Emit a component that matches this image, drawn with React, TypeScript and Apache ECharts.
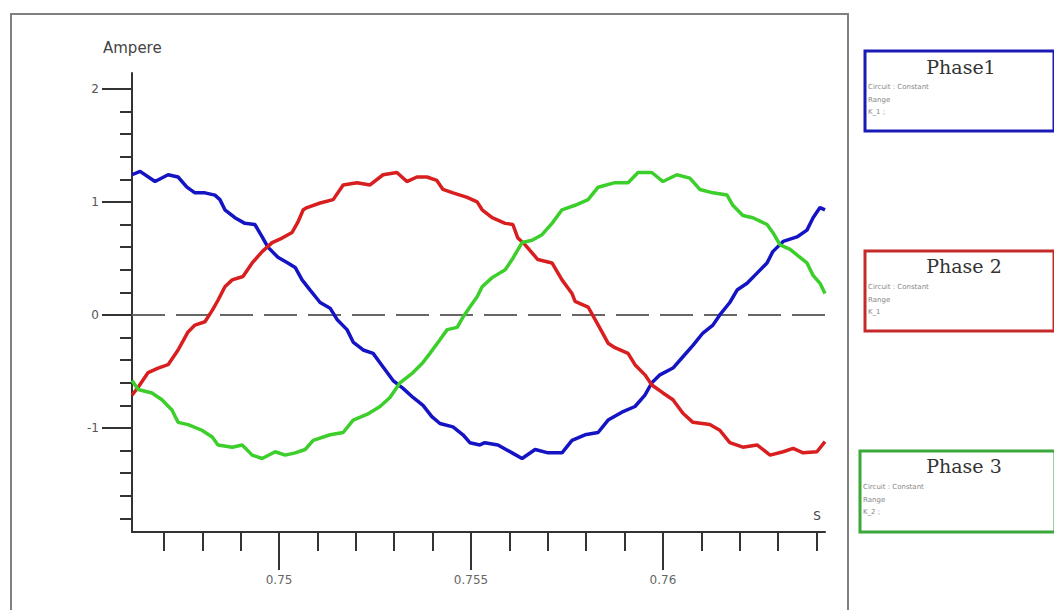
import React, { useEffect, useRef } from "react";
import * as echarts from "echarts";

// time (s) and current (A)
const phase1T = [0.74617, 0.74638, 0.74677, 0.74711, 0.74737, 0.7476, 0.74781, 0.74807, 0.74833, 0.74846, 0.74859, 0.74885, 0.74911, 0.74937, 0.74956, 0.74971, 0.74997, 0.75023, 0.75042, 0.7506, 0.75081, 0.75107, 0.75133, 0.75151, 0.75177, 0.75193, 0.75219, 0.75245, 0.75271, 0.75297, 0.75323, 0.75349, 0.75375, 0.75398, 0.75419, 0.75453, 0.75479, 0.75497, 0.75523, 0.75536, 0.7557, 0.75607, 0.75633, 0.75667, 0.75701, 0.75737, 0.75763, 0.75797, 0.75831, 0.75857, 0.75893, 0.75927, 0.75953, 0.75971, 0.75992, 0.76026, 0.76052, 0.76078, 0.76104, 0.7613, 0.76148, 0.76174, 0.76193, 0.76219, 0.76245, 0.76271, 0.76286, 0.76313, 0.76349, 0.76375, 0.76391, 0.76409, 0.76422];
const phase1I = [1.24, 1.27, 1.18, 1.24, 1.22, 1.13, 1.08, 1.08, 1.06, 1.02, 0.93, 0.86, 0.81, 0.8, 0.69, 0.6, 0.51, 0.46, 0.42, 0.31, 0.22, 0.11, 0.06, -0.04, -0.13, -0.24, -0.31, -0.34, -0.46, -0.58, -0.65, -0.73, -0.8, -0.9, -0.96, -0.99, -1.06, -1.13, -1.15, -1.13, -1.15, -1.22, -1.27, -1.19, -1.22, -1.22, -1.11, -1.06, -1.04, -0.93, -0.86, -0.81, -0.71, -0.6, -0.53, -0.47, -0.37, -0.27, -0.16, -0.09, 0.0, 0.11, 0.22, 0.28, 0.37, 0.46, 0.56, 0.65, 0.69, 0.75, 0.86, 0.95, 0.93];

const phase2T = [0.74617, 0.74633, 0.74659, 0.74685, 0.74711, 0.74737, 0.74763, 0.74781, 0.74807, 0.74826, 0.74841, 0.74859, 0.74878, 0.74906, 0.7493, 0.74956, 0.74982, 0.75008, 0.75034, 0.75049, 0.75063, 0.75073, 0.75107, 0.75141, 0.75167, 0.75203, 0.75237, 0.75271, 0.75307, 0.75333, 0.75359, 0.75385, 0.75411, 0.75427, 0.75453, 0.7549, 0.75516, 0.75529, 0.75555, 0.75589, 0.75609, 0.75622, 0.75641, 0.75674, 0.75711, 0.75737, 0.75763, 0.75771, 0.75805, 0.75823, 0.75841, 0.75857, 0.75875, 0.75909, 0.75927, 0.75953, 0.75971, 0.76, 0.76026, 0.76052, 0.76078, 0.76122, 0.76148, 0.76174, 0.76208, 0.76245, 0.76279, 0.76313, 0.76339, 0.76365, 0.76401, 0.76422];
const phase2I = [-0.71, -0.64, -0.51, -0.47, -0.44, -0.31, -0.15, -0.09, -0.06, 0.04, 0.13, 0.25, 0.31, 0.34, 0.46, 0.56, 0.64, 0.68, 0.73, 0.82, 0.93, 0.95, 0.99, 1.02, 1.15, 1.17, 1.15, 1.24, 1.26, 1.18, 1.22, 1.22, 1.19, 1.11, 1.08, 1.04, 1.0, 0.93, 0.86, 0.81, 0.8, 0.68, 0.62, 0.49, 0.46, 0.31, 0.19, 0.12, 0.07, -0.04, -0.15, -0.25, -0.29, -0.34, -0.44, -0.53, -0.62, -0.69, -0.75, -0.87, -0.95, -0.97, -1.02, -1.13, -1.17, -1.15, -1.24, -1.21, -1.18, -1.22, -1.21, -1.12];

const phase3T = [0.74617, 0.74633, 0.74669, 0.74695, 0.74721, 0.74737, 0.74763, 0.74799, 0.74826, 0.74841, 0.74878, 0.74904, 0.7493, 0.74956, 0.7499, 0.75016, 0.75042, 0.75068, 0.75089, 0.75133, 0.75167, 0.75193, 0.75229, 0.75263, 0.75289, 0.75315, 0.75349, 0.75375, 0.75393, 0.75419, 0.75438, 0.75464, 0.75479, 0.75497, 0.75516, 0.75529, 0.75555, 0.75589, 0.75607, 0.75633, 0.75659, 0.75685, 0.75711, 0.75737, 0.75771, 0.75805, 0.75831, 0.75875, 0.75909, 0.75935, 0.75971, 0.76, 0.76036, 0.7607, 0.76096, 0.7613, 0.76167, 0.76182, 0.76208, 0.76234, 0.76271, 0.76286, 0.76305, 0.76331, 0.76357, 0.76375, 0.76391, 0.76409, 0.76422];
const phase3I = [-0.58, -0.66, -0.69, -0.75, -0.84, -0.95, -0.97, -1.02, -1.08, -1.15, -1.17, -1.15, -1.24, -1.27, -1.21, -1.24, -1.22, -1.19, -1.11, -1.06, -1.04, -0.93, -0.88, -0.81, -0.73, -0.6, -0.51, -0.42, -0.34, -0.22, -0.13, -0.11, -0.02, 0.07, 0.16, 0.25, 0.33, 0.4, 0.49, 0.64, 0.66, 0.71, 0.81, 0.93, 0.97, 1.02, 1.13, 1.17, 1.17, 1.26, 1.26, 1.18, 1.24, 1.21, 1.11, 1.08, 1.06, 0.97, 0.88, 0.86, 0.8, 0.73, 0.62, 0.58, 0.51, 0.46, 0.35, 0.28, 0.19];

const xMin = 0.74617;
const xMax = 0.76422;
const yMin = -1.92;
const yMax = 2.14;
const xMinorTicks = [0.747, 0.748, 0.749, 0.75, 0.751, 0.752, 0.753, 0.754, 0.755, 0.756, 0.757, 0.758, 0.759, 0.76, 0.761, 0.762, 0.763, 0.764];
const xMajorTicks = [0.75, 0.755, 0.76];
const yMinorTicks = [-1.8, -1.6, -1.4, -1.2, -1, -0.8, -0.6, -0.4, -0.2, 0, 0.2, 0.4, 0.6, 0.8, 1, 1.2, 1.4, 1.6, 1.8, 2];
const yMajorTicks = [-1, 0, 1, 2];

const seriesNames = ["Phase1", "Phase 2", "Phase 3"];
const seriesColors = ["#1414c4", "#d81e1e", "#3ccf2c"];
const legendBorders = ["#1a1ab4", "#c42a2a", "#3aa83a"];
const legendSubLines = [
  ["Circuit : Constant", "Range", "K_1 ;"],
  ["Circuit : Constant", "Range", "K_1"],
  ["Circuit : Constant", "Range", "K_2 ;"],
];

const zip = (t: number[], v: number[]) => t.map((x, i) => [x, v[i]]);

export default function App() {
  const ref = useRef<HTMLDivElement>(null);
  useEffect(() => {
    if (!ref.current) return;
    const chart = echarts.init(ref.current, null, { renderer: "svg" });
    const boxes = [
      { x: 865, y: 51, w: 189, h: 80, tx: 961, ty: 67 },
      { x: 865, y: 251, w: 189, h: 80, tx: 964, ty: 266 },
      { x: 860, y: 451, w: 195, h: 81, tx: 964, ty: 466 },
    ];
    const graphics: any[] = [
      {
        type: "rect",
        shape: { x: 11, y: 14, width: 837, height: 620 },
        style: { fill: "none", stroke: "#808080", lineWidth: 2 },
        silent: true,
      },
      {
        type: "text",
        x: 103,
        y: 48,
        style: { text: "Ampere", font: "15px 'DejaVu Sans'", fill: "#444", verticalAlign: "middle" },
      },
      {
        type: "text",
        x: 817,
        y: 516,
        style: { text: "S", font: "12px 'DejaVu Sans'", fill: "#444", align: "center", verticalAlign: "middle" },
      },
    ];
    boxes.forEach((b, i) => {
      graphics.push({
        type: "rect",
        shape: { x: b.x, y: b.y, width: b.w, height: b.h },
        style: { fill: "#fff", stroke: legendBorders[i], lineWidth: 3 },
      });
      graphics.push({
        type: "text",
        x: b.tx,
        y: b.ty,
        style: {
          text: seriesNames[i],
          font: "19px 'DejaVu Serif'",
          fill: "#333",
          align: "center",
          verticalAlign: "middle",
        },
      });
      legendSubLines[i].forEach((s, j) => {
        graphics.push({
          type: "text",
          x: b.x + 3,
          y: b.y + 36 + j * 12.5,
          style: { text: s, font: "7px 'DejaVu Sans'", fill: "#888", verticalAlign: "middle" },
        });
      });
    });

    const axisColor = "#333";
    chart.setOption({
      animation: false,
      backgroundColor: "#fff",
      grid: { left: 132, top: 73, right: 229, bottom: 78, containLabel: false },
      xAxis: [
        {
          type: "value",
          min: xMin,
          max: xMax,
          position: "bottom",
          axisLine: { show: true, onZero: false, lineStyle: { color: axisColor, width: 2 } },
          axisTick: { show: true, customValues: xMinorTicks, length: 19, lineStyle: { color: axisColor, width: 2 } },
          axisLabel: { show: false },
          splitLine: { show: false },
        },
        {
          type: "value",
          min: xMin,
          max: xMax,
          position: "bottom",
          axisLine: { show: false, onZero: false },
          axisTick: { show: true, customValues: xMajorTicks, length: 38, lineStyle: { color: axisColor, width: 2 } },
          axisLabel: {
            show: true,
            customValues: xMajorTicks,
            margin: 42,
            fontFamily: "DejaVu Sans",
            fontSize: 12,
            color: "#666",
            formatter: (v: number) => String(v),
          },
          splitLine: { show: false },
        },
      ],
      yAxis: [
        {
          type: "value",
          min: yMin,
          max: yMax,
          position: "left",
          axisLine: { show: true, onZero: false, lineStyle: { color: axisColor, width: 2 } },
          axisTick: { show: true, customValues: yMinorTicks, length: 12, lineStyle: { color: axisColor, width: 2 } },
          axisLabel: { show: false },
          splitLine: { show: false },
        },
        {
          type: "value",
          min: yMin,
          max: yMax,
          position: "left",
          axisLine: { show: false, onZero: false },
          axisTick: { show: true, customValues: yMajorTicks, length: 30, lineStyle: { color: axisColor, width: 2 } },
          axisLabel: {
            show: true,
            customValues: yMajorTicks,
            margin: 33,
            fontFamily: "DejaVu Sans",
            fontSize: 12,
            color: "#555",
            formatter: (v: number) => String(v),
          },
          splitLine: { show: false },
        },
      ],
      series: [
        {
          name: seriesNames[0],
          type: "line",
          data: zip(phase1T, phase1I),
          showSymbol: false,
          lineStyle: { color: seriesColors[0], width: 3.5 },
          itemStyle: { color: seriesColors[0] },
          z: 3,
          markLine: {
            silent: true,
            symbol: ["none", "none"],
            label: { show: false },
            lineStyle: { type: [33, 11], color: "#666", width: 2 },
            data: [{ yAxis: 0 }],
            z: 1,
          },
        },
        {
          name: seriesNames[1],
          type: "line",
          data: zip(phase2T, phase2I),
          showSymbol: false,
          lineStyle: { color: seriesColors[1], width: 3.5 },
          itemStyle: { color: seriesColors[1] },
          z: 3,
        },
        {
          name: seriesNames[2],
          type: "line",
          data: zip(phase3T, phase3I),
          showSymbol: false,
          lineStyle: { color: seriesColors[2], width: 3.5 },
          itemStyle: { color: seriesColors[2] },
          z: 3,
        },
      ],
      graphic: graphics,
    });
    return () => chart.dispose();
  }, []);
  return (
    <div
      ref={ref}
      style={{ position: "fixed", left: 0, top: 0, width: 1054, height: 610, background: "#fff" }}
    />
  );
}
